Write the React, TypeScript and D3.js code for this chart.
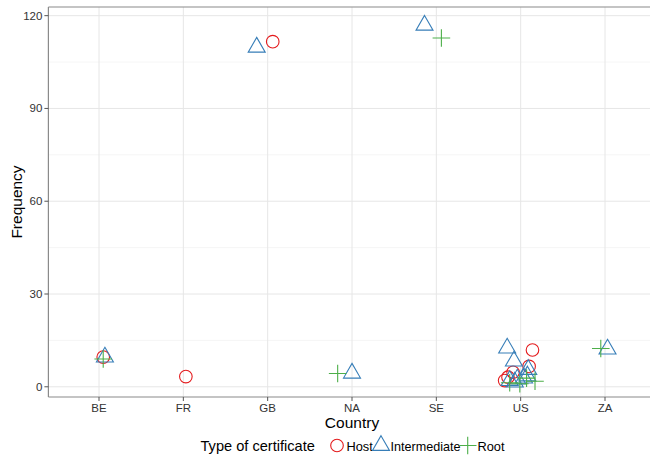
import * as d3 from "d3";

const countries = ["BE", "FR", "GB", "NA", "SE", "US", "ZA"];
const yTicks = [0, 30, 60, 90, 120];
const yMinor = [15, 45, 75, 105];

// jitter is the horizontal offset in category units
const hostCountry = ["BE", "FR", "GB", "US", "US", "US", "US", "US"];
const hostJitter = [0.05, 0.03, 0.06, 0.14, 0.1, -0.09, -0.15, -0.19];
const hostFreq = [9.6, 3.3, 111.6, 11.9, 6.6, 4.7, 3.1, 2.0];

const interCountry = ["BE", "GB", "NA", "SE", "ZA", "US", "US", "US", "US", "US", "US", "US", "US"];
const interJitter = [0.07, -0.13, 0.0, -0.14, 0.03, -0.16, -0.08, 0.09, -0.13, -0.04, 0.04, 0.08, -0.07];
const interFreq = [9.6, 109.8, 4.4, 116.9, 12.2, 12.5, 8.3, 5.6, 2.0, 2.5, 2.8, 3.5, 1.5];

const rootCountry = ["BE", "NA", "SE", "ZA", "US", "US", "US", "US"];
const rootJitter = [0.05, -0.17, 0.06, -0.05, 0.17, -0.01, -0.13, 0.07];
const rootFreq = [9.0, 4.3, 112.8, 12.4, 1.8, 1.0, 1.3, 2.8];

const RED = "#E41A1C", BLUE = "#377EB8", GREEN = "#4DAF4A";
const font = "'Liberation Sans', Arial, sans-serif";

const triPath = d3.symbol(d3.symbolTriangle, 125)();
const plusPath = "M-8.8,0H8.8M0,-8.8V8.8";

export default function App() {
  const width = 650, height = 455;
  const left = 48.4, right = 655.6, top = 7, bottom = 397;

  const x = d3.scalePoint().domain(countries).range([99, 605]);
  const step = x.step();
  const y = d3.scaleLinear().domain([-3.3, 122.8]).range([bottom, top]);
  const px = (c, j) => x(c) + j * step;

  return (
    <svg width={width} height={height} style={{ position: "absolute", left: 0, top: 0, fontFamily: font }}>
      <rect width={width} height={height} fill="white" />
      {yMinor.map(t => (
        <line key={"m" + t} x1={left} x2={right} y1={y(t)} y2={y(t)} stroke="#f3f3f3" strokeWidth={0.8} />
      ))}
      {yTicks.map(t => (
        <line key={"g" + t} x1={left} x2={right} y1={y(t)} y2={y(t)} stroke="#e6e6e6" strokeWidth={1} />
      ))}
      {countries.map(c => (
        <line key={"v" + c} x1={x(c)} x2={x(c)} y1={top} y2={bottom} stroke="#e6e6e6" strokeWidth={1} />
      ))}

      {/* axes */}
      <line x1={left} x2={right} y1={top} y2={top} stroke="#8a8a8a" strokeWidth={1.2} />
      <line x1={left} x2={left} y1={top} y2={bottom} stroke="#8a8a8a" strokeWidth={1.2} />
      <line x1={left} x2={right} y1={bottom} y2={bottom} stroke="#8a8a8a" strokeWidth={1.2} />
      {yTicks.map(t => (
        <g key={"yt" + t}>
          <line x1={left - 4} x2={left} y1={y(t)} y2={y(t)} stroke="#555" />
          <text x={left - 6} y={y(t)} dy="0.35em" textAnchor="end" fontSize={11.5} fill="#333">{t}</text>
        </g>
      ))}
      {countries.map(c => (
        <g key={"xt" + c}>
          <line x1={x(c)} x2={x(c)} y1={bottom} y2={bottom + 4} stroke="#555" />
          <text x={x(c)} y={bottom + 15} textAnchor="middle" fontSize={11.5} fill="#333">{c}</text>
        </g>
      ))}

      {/* points */}
      {hostCountry.map((c, i) => (
        <circle key={"h" + i} cx={px(c, hostJitter[i])} cy={y(hostFreq[i])} r={6.3} fill="none" stroke={RED} strokeWidth={1.1} />
      ))}
      {interCountry.map((c, i) => (
        <path key={"t" + i} d={triPath} transform={`translate(${px(c, interJitter[i])},${y(interFreq[i])})`} fill="none" stroke={BLUE} strokeWidth={1.1} />
      ))}
      {rootCountry.map((c, i) => (
        <path key={"r" + i} d={plusPath} transform={`translate(${px(c, rootJitter[i])},${y(rootFreq[i])})`} fill="none" stroke={GREEN} strokeWidth={1.1} />
      ))}

      {/* titles */}
      <text x={352} y={428} textAnchor="middle" fontSize={15.5} fill="#000">Country</text>
      <text transform={`translate(22,${(top + bottom) / 2}) rotate(-90)`} textAnchor="middle" fontSize={15.5} fill="#000">Frequency</text>

      {/* legend */}
      <text x={200.5} y={451} fontSize={14.6} fill="#000">Type of certificate</text>
      <circle cx={337} cy={445.5} r={6.3} fill="none" stroke={RED} strokeWidth={1.1} />
      <text x={346.5} y={450.5} fontSize={12.8} fill="#000">Host</text>
      <path d={triPath} transform="translate(381,445.5)" fill="none" stroke={BLUE} strokeWidth={1.1} />
      <text x={390.5} y={450.5} fontSize={12.6} fill="#000">Intermediate</text>
      <path d={plusPath} transform="translate(467.7,445.5)" fill="none" stroke={GREEN} strokeWidth={1.1} />
      <text x={477.5} y={450.5} fontSize={12.8} fill="#000">Root</text>
    </svg>
  );
}
